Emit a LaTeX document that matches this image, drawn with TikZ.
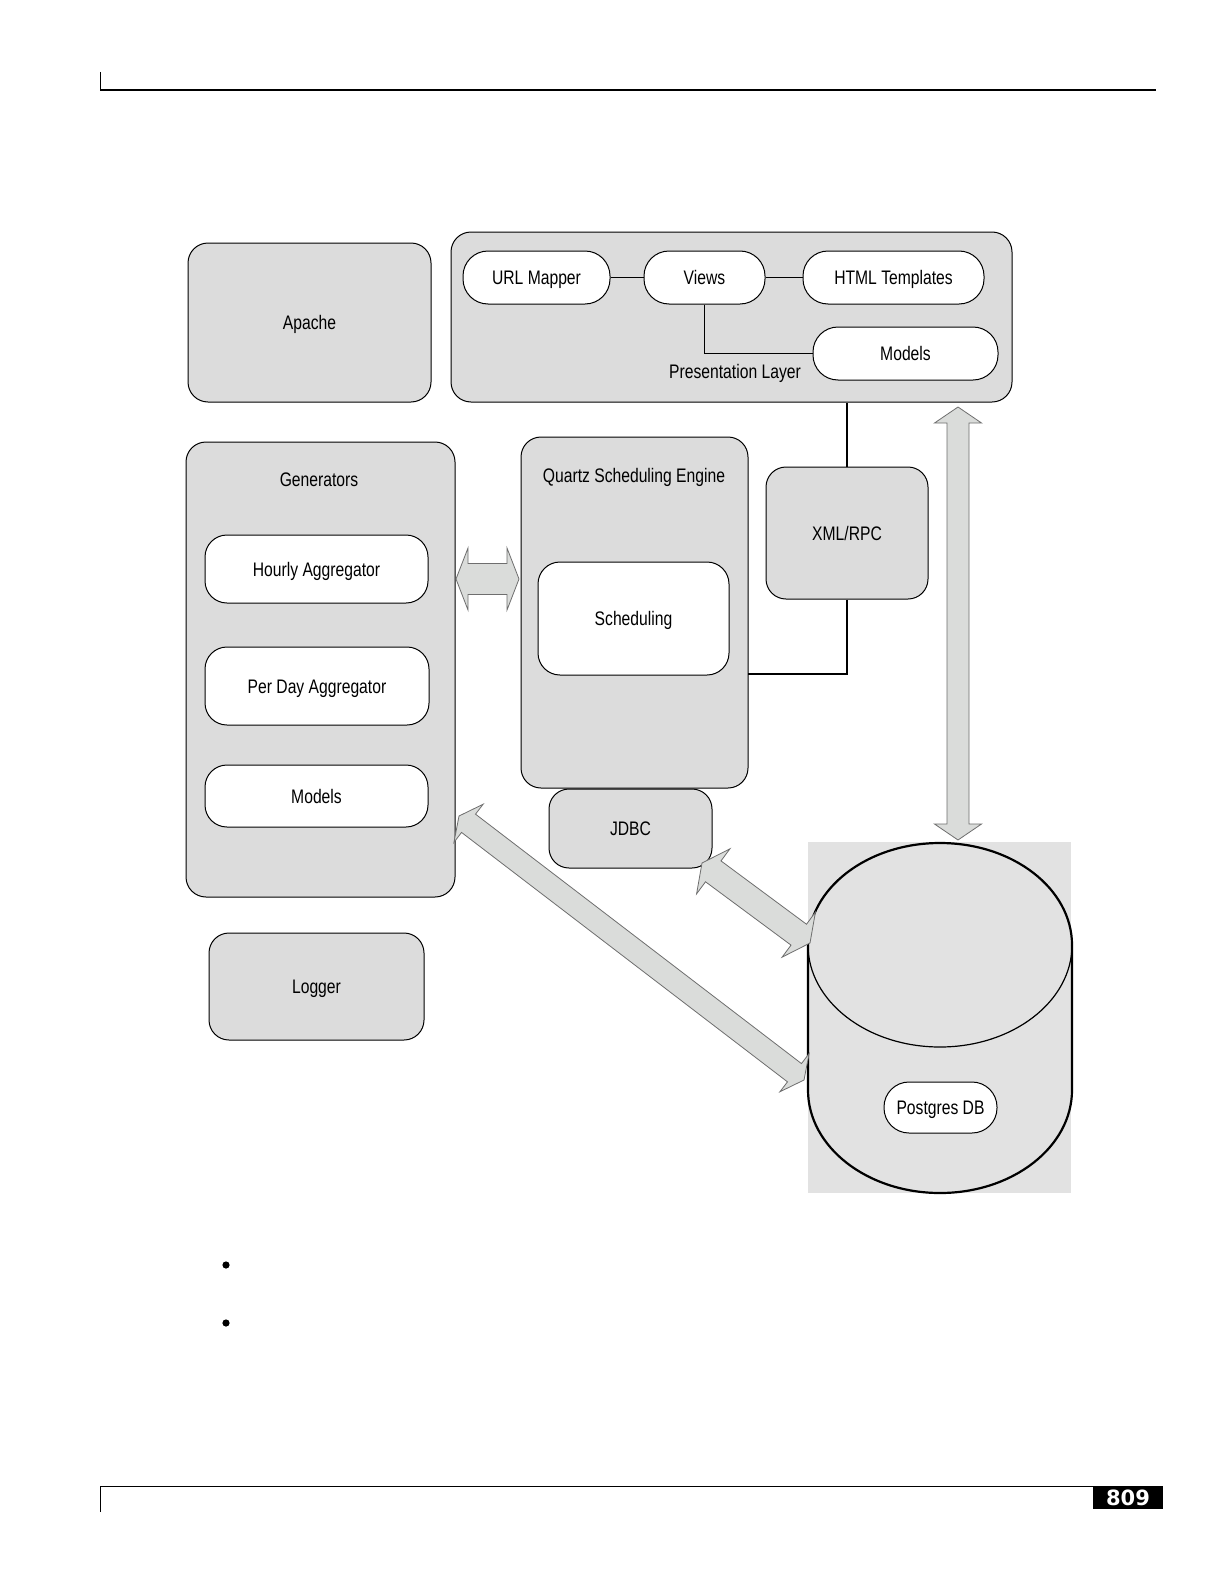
\documentclass[tikz,border=0pt]{standalone}
\usepackage{fontspec}
\usetikzlibrary{calc}
\newfontfamily\dfont[FakeStretch=0.8]{Liberation Sans}
\newfontfamily\pnfont{DejaVu Sans}
\definecolor{boxgray}{RGB}{220,220,220}
\definecolor{dbgray}{RGB}{226,226,226}
\definecolor{arrfill}{RGB}{218,220,218}
\definecolor{arrline}{RGB}{110,110,110}
\tikzset{
  txt/.style={font=\dfont\fontsize{9.8}{11}\selectfont, text height=8pt, text depth=1pt},
  box/.style={txt, draw=black, fill=boxgray, line width=0.5pt, rounded corners=10pt, inner sep=0pt},
  pill/.style={txt, draw=black, fill=white, line width=0.5pt, rounded corners=12.5pt, inner sep=0pt},
  rbox/.style={txt, draw=black, fill=white, line width=0.5pt, rounded corners=11pt, inner sep=0pt},
  lbl/.style={txt, inner sep=0pt},
  conn/.style={draw=black, line width=0.6pt},
  blockarr/.style={draw=arrline, fill=arrfill, line width=0.4pt, line join=miter}
}
% #1 tip A, #2 tip B, #3 shaft half width, #4 head half width, #5 head length
\newcommand\blockarrow[5]{%
  \path[blockarr] (#1)
    -- ($(#1)!#5!(#2)!#4!90:(#2)$)
    -- ($(#1)!#5!(#2)!#3!90:(#2)$)
    -- ($(#2)!#5!(#1)!#3!-90:(#1)$)
    -- ($(#2)!#5!(#1)!#4!-90:(#1)$)
    -- (#2)
    -- ($(#2)!#5!(#1)!#4!90:(#1)$)
    -- ($(#2)!#5!(#1)!#3!90:(#1)$)
    -- ($(#1)!#5!(#2)!#3!-90:(#2)$)
    -- ($(#1)!#5!(#2)!#4!-90:(#2)$)
    -- cycle;}
\begin{document}
\begin{tikzpicture}[x=0.5pt, y=-0.5pt]
\useasboundingbox (0,0) rectangle (1224,1584);
\fill[white] (0,0) rectangle (1224,1584);

% page header and footer
\draw[line width=0.5pt] (100,72) -- (100,91);
\draw[line width=1.1pt] (100,90) -- (1156,90);
\draw[line width=0.5pt] (100,1512) -- (100,1486) -- (1093,1486);
\node[fill=black, text=white, minimum width=35pt, minimum height=11.5pt, inner sep=0pt,
      font=\pnfont\bfseries\fontsize{10.5}{11}\selectfont] (page) at (1128,1497.5) {809};
\fill (226,1265) circle[radius=3.6];
\fill (226,1323) circle[radius=3.6];

% database background and cylinder
\fill[dbgray] (808,842) rectangle (1071,1193);
\coordinate (dbc) at (940,945);
\draw[line width=1.1pt] (808,945) -- (808,1090) arc[start angle=180, end angle=0, x radius=132, y radius=103] -- (1072,945);
\draw[line width=1.1pt] (808,945) arc[start angle=180, end angle=360, x radius=132, y radius=102];
\draw[line width=0.6pt] (808,945) arc[start angle=180, end angle=0, x radius=132, y radius=102];
\node[pill, minimum width=56.5pt, minimum height=25.5pt] (pg) at (940.5,1107.5) {Postgres DB};

% top row
\node[box, minimum width=121.5pt, minimum height=79.5pt] (apache) at (309.5,322.5) {Apache};
\node[box, minimum width=280.5pt, minimum height=85pt] (pres) at (731.5,317) {};
\node[pill, minimum width=73.5pt, minimum height=26.5pt] (url) at (536.5,277.5) {URL Mapper};
\node[pill, minimum width=60.5pt, minimum height=26.5pt] (views) at (704.5,277.5) {Views};
\node[pill, minimum width=90.5pt, minimum height=26.5pt] (html) at (893.5,277.5) {HTML Templates};
\node[pill, minimum width=92.5pt, minimum height=26.5pt] (modelsp) at (905.5,353.5) {Models};
\node[lbl] (preslbl) at (735,371) {Presentation Layer};
\draw[conn] (url.east) -- (views.west);
\draw[conn] (views.east) -- (html.west);
\draw[conn] (views.south) |- (modelsp.west);

% generators
\node[box, minimum width=134.5pt, minimum height=227.5pt] (gen) at (320.5,669.5) {};
\node[lbl] (genlbl) at (319,479) {Generators};
\node[rbox, minimum width=111.5pt, minimum height=34pt] (hourly) at (316.5,569) {Hourly Aggregator};
\node[rbox, minimum width=112pt, minimum height=39pt] (perday) at (317,686) {Per Day Aggregator};
\node[rbox, minimum width=111.5pt, minimum height=31pt] (modelsg) at (316.5,796) {Models};

% quartz
\node[box, minimum width=113.5pt, minimum height=175.5pt] (quartz) at (634.5,612.5) {};
\node[lbl] (quartzlbl) at (634,475) {Quartz Scheduling Engine};
\node[rbox, minimum width=95.5pt, minimum height=56.5pt] (sched) at (633.5,618.5) {Scheduling};
\node[box, minimum width=81.5pt, minimum height=39.5pt] (jdbc) at (630.5,828.5) {JDBC};

% xml/rpc
\node[box, minimum width=81pt, minimum height=66pt] (xml) at (847,533) {XML/RPC};
\coordinate (xq) at (748,674);
\draw[conn] (xml.north) -- (xml.north |- pres.south);
\draw[conn] (xml.south) |- (xq);

% logger
\node[box, minimum width=107.5pt, minimum height=53.5pt] (logger) at (316.5,986.5) {Logger};

% block arrows
\coordinate (hA) at (456,579);
\coordinate (hB) at (519,579);
\blockarrow{hA}{hB}{7.75pt}{15.5pt}{6pt}
\coordinate (vA) at (958,407);
\coordinate (vB) at (958,840);
\blockarrow{vA}{vB}{5.5pt}{11.75pt}{8pt}
\coordinate (jA) at (702,863);
\coordinate (jB) at (810,943);
\blockarrow{jA}{jB}{6.5pt}{14pt}{7pt}
\coordinate (gA) at (459,816);
\coordinate (gB) at (804,1080);
\blockarrow{gA}{gB}{5.75pt}{12pt}{6pt}
\end{tikzpicture}
\end{document}
